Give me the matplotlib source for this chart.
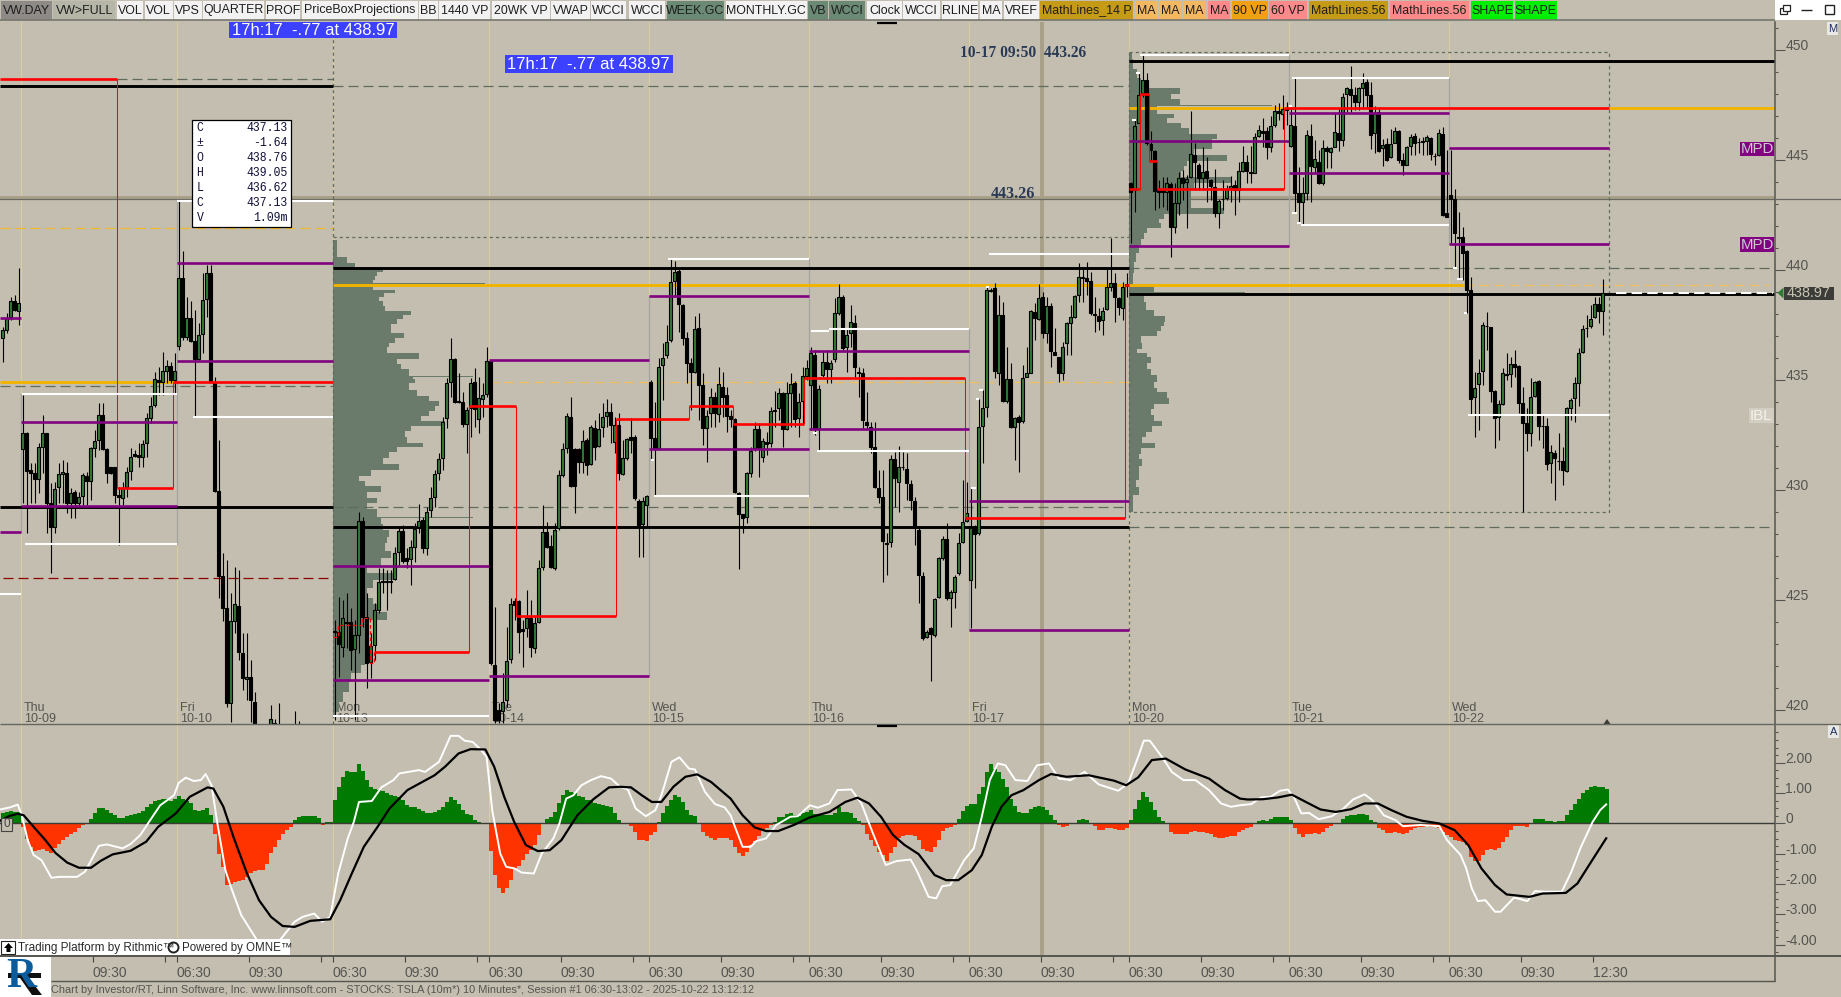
import matplotlib
matplotlib.use('Agg')
import matplotlib.pyplot as plt
from matplotlib.patches import Rectangle, Polygon
from matplotlib.transforms import Affine2D

plt.rcParams['font.family'] = ['Liberation Sans', 'DejaVu Sans']

W, H = 1841, 997
BG = '#c4beb0'
GREY_DASH = '#5e6b5e'

# ---- candles, one list per session: (open, high, low, close)
pre_bars = [(436.89,437.42,435.83,437.27),(437.27,438.03,437.12,437.80),(437.88,438.78,437.72,438.59),
 (438.59,438.86,438.15,438.18),(438.15,440.07,437.50,438.48)]

d1009 = [(431.85,434.31,429.39,432.60),(432.57,432.65,428.03,430.88),(430.91,431.21,429.39,430.75),(430.75,431.21,429.39,430.48),
 (430.48,432.12,429.85,431.94),(431.97,433.41,430.75,432.57),(432.57,432.60,428.03,429.39),(429.39,430.30,426.21,428.33),
 (428.33,430.38,428.03,430.03),(430.15,431.21,429.39,430.71),(430.71,431.36,429.39,430.83),(430.75,431.29,428.94,429.39),
 (429.42,430.07,428.74,429.85),(429.92,430.00,428.71,429.39),(429.39,429.92,429.24,429.66),(429.73,430.75,429.32,430.66),
 (430.63,430.83,429.32,430.42),(430.42,431.97,429.54,431.89),(431.91,432.72,431.51,432.22),(432.27,433.93,431.82,433.41),
 (433.41,433.96,431.82,431.85),(431.85,431.89,430.30,430.75),(431.03,431.06,430.72,430.75),(431.03,431.06,429.39,429.77),
 (429.77,430.15,427.50,429.66),(429.62,430.38,429.24,430.07),(430.12,431.06,429.69,430.80),(430.88,431.89,430.45,431.48),
 (431.62,431.82,431.51,431.54),(431.59,432.12,431.06,431.51),(431.51,432.27,431.06,432.07),(432.12,433.48,431.51,433.25),
 (433.28,434.24,433.03,433.81),(433.88,435.38,433.78,435.03),(435.00,435.60,434.31,434.92),(434.92,436.29,434.31,435.41),
 (435.42,435.91,434.85,435.63),(435.63,435.83,434.85,435.00),(435.00,436.21,434.39,435.41)]

d1010 = [(436.54,443.13,436.36,439.62),(439.62,440.86,436.81,436.97),(436.97,438.78,436.81,437.80),(437.80,438.59,436.74,436.77),
 (436.77,438.18,433.33,435.93),(435.93,437.57,435.90,437.04),(437.09,439.84,436.21,438.63),(438.66,440.22,437.88,439.88),
 (439.88,440.22,434.85,434.92),(434.92,435.15,429.92,429.97),(429.95,432.27,425.10,426.10),(426.09,427.12,424.04,424.65),
 (424.65,426.82,420.15,420.33),(420.30,425.30,419.47,424.04),(424.06,426.51,423.48,424.82),(424.73,426.36,422.27,422.65),
 (422.60,423.48,420.91,421.44),(421.39,423.48,420.45,421.51),(421.48,422.27,419.47,420.45),(420.36,420.83,418.90,419.20),
 (418.80,419.10,418.10,418.40),(418.40,419.00,417.80,418.60),(418.60,419.10,417.90,418.30),(418.90,420.23,418.40,419.60),
 (419.40,419.60,418.90,419.35),(419.00,420.32,418.50,419.10),(418.60,419.00,418.00,418.40),(418.40,418.90,417.90,418.70),
 (418.70,419.10,418.20,418.50),(418.90,419.95,418.30,419.10),(418.80,419.50,418.20,418.60),(418.60,419.00,418.00,418.30),
 (418.30,418.90,417.90,418.60),(418.60,419.00,418.10,418.40),(418.40,418.80,417.80,418.20),(418.20,418.90,417.80,418.70),
 (418.70,419.10,418.30,418.50),(418.50,419.00,418.00,418.30),(418.30,418.90,418.00,418.60)]

d1013 = [(423.60,424.09,419.54,423.56),(423.56,425.15,421.51,423.00),(422.85,424.99,422.42,424.16),(424.01,425.30,422.80,423.94),
 (424.01,424.62,421.82,422.72),(422.76,424.09,419.54,423.41),(423.41,429.01,422.57,428.60),(428.60,428.79,423.79,424.24),
 (424.24,425.30,420.98,422.12),(422.20,423.48,421.44,422.92),(422.95,424.85,422.27,424.54),(424.54,426.47,424.39,425.83),
 (425.88,426.44,425.30,425.83),(425.88,426.36,424.54,425.82),(425.86,426.36,425.30,425.80),(425.94,427.42,425.91,427.15),
 (427.20,428.33,426.59,428.15),(428.15,428.41,426.66,426.77),(426.89,427.35,426.44,426.79),(426.85,427.72,425.68,427.39),
 (427.42,428.48,426.74,428.21),(428.30,429.35,428.03,428.60),(428.63,428.79,427.12,427.35),(427.35,429.24,427.04,429.01),
 (429.09,430.15,428.79,429.62),(429.66,430.91,429.24,430.71),(430.75,431.66,430.45,431.42),(431.44,433.33,430.91,433.10),
 (433.25,435.07,432.80,434.88),(434.91,436.89,434.24,435.94),(435.94,435.98,433.94,434.01),(434.03,435.30,433.94,434.00),
 (434.01,434.47,432.88,432.98),(432.98,433.78,431.66,433.63),(433.71,435.07,432.42,434.88),(434.92,435.53,432.88,433.66),
 (433.21,435.15,432.57,434.16),(434.15,434.85,433.33,434.31),(434.35,436.48,434.24,435.88)]

d1014 = [(435.88,435.91,422.04,422.12),(422.04,424.69,419.39,419.54),(420.00,420.30,419.39,419.54),(419.97,421.66,419.39,420.38),
 (420.45,423.79,420.15,422.24),(422.30,425.07,422.12,424.80),(424.97,425.07,424.09,424.77),(424.97,425.00,422.57,423.56),
 (423.67,424.09,421.97,423.59),(423.71,425.45,423.33,424.16),(424.16,425.00,422.42,422.88),(422.80,424.24,422.57,423.94),
 (424.01,426.82,423.94,426.44),(426.48,429.32,426.36,428.10),(428.10,428.56,427.35,427.42),(427.45,427.95,426.44,426.48),
 (426.44,428.48,426.36,428.18),(428.26,430.91,428.18,430.66),(430.68,432.12,430.60,431.85),(431.89,433.48,431.66,433.36),
 (433.33,434.21,430.15,430.18),(431.85,431.89,428.94,430.18),(431.85,431.89,430.75,431.25),(431.28,432.72,430.75,432.24),
 (432.27,432.35,430.68,431.13),(431.18,432.95,431.13,432.85),(432.80,433.18,431.36,431.97),(432.00,433.48,431.97,432.75),
 (432.85,433.93,432.42,433.30),(433.36,434.12,432.88,433.56),(433.56,433.93,432.12,432.95),(432.18,433.33,431.66,432.95),
 (432.95,433.48,430.45,430.75),(430.71,432.27,430.68,431.44),(431.44,432.35,431.36,432.30),(432.39,433.25,431.66,432.27),
 (432.39,432.50,429.54,429.62),(429.50,429.57,426.94,428.36),(428.44,429.69,426.97,429.51),(429.32,429.77,428.33,429.72)]

d1015 = [(434.89,435.00,431.36,432.35),(432.35,434.01,429.72,431.85),(431.85,435.98,431.82,435.60),(435.68,436.66,434.09,435.98),
 (436.13,437.50,435.98,436.74),(436.81,440.53,436.74,439.44),(439.51,440.42,438.78,439.89),(439.95,440.07,437.19,438.44),
 (438.41,438.44,436.59,436.92),(436.92,437.19,434.85,435.75),(435.75,435.98,433.63,435.38),(435.38,437.91,435.30,437.30),
 (437.35,438.03,433.18,434.77),(434.77,435.30,432.04,432.83),(432.83,433.63,431.29,433.38),(433.48,434.62,432.88,434.21),
 (434.21,434.47,432.88,433.48),(433.45,435.60,433.10,434.80),(434.69,435.38,433.33,434.24),(434.31,434.69,432.65,433.38),
 (433.36,433.63,432.88,433.21),(433.21,433.25,429.85,429.92),(429.85,429.92,426.39,428.89),(428.89,428.91,428.03,428.71),
 (428.79,430.83,428.48,430.78),(430.75,431.97,430.60,431.78),(431.89,433.10,431.78,432.75),(432.75,433.03,430.57,431.89),
 (431.51,432.35,431.25,432.22),(432.16,432.65,431.59,432.09),(432.12,433.78,431.97,433.60),(433.63,434.51,432.88,433.60),
 (433.71,434.62,433.18,434.42),(434.39,434.47,431.97,432.75),(432.75,434.92,432.72,434.39),(434.42,435.30,432.88,434.82),
 (434.85,434.97,432.88,433.21),(433.25,434.39,432.42,434.01),(434.06,435.60,432.95,435.18),(435.18,435.91,435.00,435.53)]

d1016 = [(434.77,436.51,432.72,436.21),(436.13,436.36,432.50,432.75),(432.75,434.77,431.82,434.59),(435.22,436.29,435.15,435.80),
 (435.83,436.36,434.85,435.48),(435.48,435.91,434.85,435.75),(435.94,438.71,435.83,438.03),(438.06,439.36,437.95,438.75),
 (438.75,438.86,436.36,436.44),(436.51,437.35,435.38,437.04),(437.12,438.41,436.51,437.65),(437.57,437.95,435.15,435.60),
 (435.38,435.60,434.24,435.33),(435.30,435.53,432.80,433.18),(433.10,434.47,432.77,432.95),(432.88,433.10,431.66,431.94),
 (431.97,433.10,430.07,430.15),(430.07,430.91,429.39,429.69),(429.66,430.91,425.83,427.69),(427.60,428.03,426.13,427.54),
 (427.65,431.59,427.42,431.39),(431.39,431.74,429.24,430.53),(430.38,432.00,429.01,431.06),(431.06,431.74,430.91,431.03),
 (430.94,431.66,429.54,430.30),(430.27,430.45,429.09,429.54),(429.51,429.69,427.50,428.33),(428.18,428.33,424.88,426.15),
 (426.09,426.29,423.18,423.29),(423.33,423.63,423.26,423.56),(423.71,423.79,421.33,423.44),(423.41,425.07,423.33,425.03),
 (425.15,426.97,425.07,426.89),(426.89,427.91,426.82,427.76),(427.76,428.48,425.00,425.07),(425.07,425.45,423.79,425.35),
 (425.35,426.13,424.62,426.06),(426.21,428.03,426.13,427.60),(427.65,430.45,427.57,428.56),(428.60,430.38,428.56,428.94)]

d1017 = [(425.91,430.12,423.71,428.26),(428.33,428.39,425.56,428.00),(428.03,434.15,427.95,432.88),(432.91,434.54,431.21,433.71),
 (433.75,439.24,433.33,439.09),(439.09,439.16,439.01,439.06),(439.16,439.39,435.07,435.42),(435.33,438.86,434.77,437.95),
 (437.95,438.56,434.01,434.06),(434.03,436.51,433.94,435.03),(435.03,435.75,432.80,432.88),(432.88,433.33,431.36,433.25),
 (433.33,433.41,430.83,433.10),(433.13,435.68,433.03,435.07),(435.15,436.51,435.12,435.33),(435.33,438.18,435.30,438.13),
 (438.07,438.48,436.81,437.80),(437.78,439.36,437.72,438.74),(438.75,439.01,436.89,437.15),(437.15,438.78,436.66,438.38),
 (438.38,438.48,435.60,436.33),(436.29,437.35,436.13,436.13),(436.03,436.06,434.92,435.30),(435.33,436.74,435.00,436.51),
 (436.66,437.65,436.13,437.57),(437.60,438.41,436.13,437.88),(437.88,438.86,437.80,438.83),(438.86,440.33,438.56,439.69),
 (439.66,440.15,438.56,439.62),(439.62,440.38,438.86,439.51),(439.51,439.92,437.95,438.03),(438.00,438.78,437.19,437.94),
 (437.91,438.25,437.27,437.69),(437.72,438.33,437.04,438.13),(438.24,440.07,438.18,439.21),(439.24,441.45,439.06,439.39),
 (439.39,439.84,437.65,438.75),(438.71,438.78,437.95,438.33),(438.28,439.47,437.72,439.24),(439.34,439.84,438.78,439.27)]

d1020 = [(443.97,444.01,441.21,443.56),(443.63,446.81,442.65,446.54),(446.69,448.94,446.66,447.95),(448.03,449.77,447.87,448.63),
 (448.63,448.94,445.68,445.75),(445.72,446.31,445.00,445.45),(445.41,445.45,442.72,443.60),(443.66,444.09,442.80,443.54),
 (443.63,444.21,442.88,443.53),(443.56,444.24,442.72,443.94),(443.91,444.01,440.60,441.97),(441.97,443.94,441.66,443.03),
 (443.06,444.47,442.50,444.16),(444.16,444.54,443.18,443.94),(444.01,444.31,441.92,444.12),(444.21,447.22,444.16,445.25),
 (445.22,445.75,443.63,444.92),(444.77,444.87,443.63,444.19),(444.19,445.60,443.63,444.44),(444.50,445.15,443.10,444.16),
 (444.09,444.12,443.18,443.83),(443.75,444.57,442.42,442.57),(442.60,443.21,441.92,443.13),(443.24,444.09,442.72,443.21),
 (443.25,443.86,443.18,443.66),(443.71,444.27,443.10,443.81),(443.84,444.09,442.50,443.63),(443.63,444.92,443.10,444.50),
 (444.51,445.63,444.47,444.89),(444.89,445.22,443.94,444.50),(444.44,445.63,443.94,444.39),(444.42,446.21,444.39,446.03),
 (446.09,446.59,446.06,446.36),(446.33,446.89,445.60,446.21),(446.33,446.48,445.03,445.57),(445.57,446.99,445.37,446.54),
 (446.59,447.50,446.51,447.22),(447.22,447.57,446.81,447.15),(447.09,447.95,446.39,447.31),(447.37,447.65,446.59,447.27)]

d1021 = [(445.63,447.42,445.60,446.59),(446.54,448.71,442.57,443.51),(443.48,444.66,442.12,443.07),(443.07,444.24,442.04,443.48),
 (443.51,446.36,443.18,446.13),(446.09,446.63,443.10,444.72),(444.69,445.91,444.39,445.03),(444.92,445.45,443.91,443.94),
 (443.94,445.91,443.86,445.53),(445.53,445.63,444.62,445.42),(445.37,445.60,444.62,445.53),(445.60,447.12,445.57,446.25),
 (446.21,447.34,445.41,445.91),(445.91,448.06,445.63,447.84),(447.98,448.33,447.19,448.25),(448.21,449.27,447.19,447.95),
 (447.94,448.33,447.27,447.65),(447.65,448.33,447.27,448.25),(448.28,448.97,447.34,448.48),(448.53,448.66,447.34,447.95),
 (447.95,448.56,445.48,446.13),(446.21,447.45,445.33,447.15),(447.19,447.42,445.37,445.42),(445.53,445.94,444.72,445.66),
 (445.71,445.98,444.97,445.00),(445.12,446.39,445.07,445.71),(445.78,446.48,445.75,446.31),(446.31,446.36,444.84,445.00),
 (445.00,445.30,444.31,444.77),(444.78,445.63,444.77,445.57),(445.63,446.18,445.22,446.06),(446.09,446.21,445.22,445.75),
 (445.83,445.98,445.30,445.80),(445.86,446.06,445.22,445.81),(445.87,446.13,445.22,446.03),(445.98,446.06,445.00,445.27),
 (445.19,445.30,444.77,445.16),(445.22,446.39,445.18,446.21),(446.18,446.51,442.45,442.50),(442.57,445.45,442.39,442.42)]

d1022 = [(443.41,445.45,441.21,443.21),(443.21,443.68,440.07,441.66),(441.51,442.63,439.62,441.47),(441.48,441.94,439.54,440.75),
 (440.87,440.91,438.03,439.09),(439.09,439.66,433.41,434.12),(434.21,435.38,432.39,434.62),(434.80,435.94,432.72,435.30),
 (435.39,437.63,434.77,437.48),(437.47,438.09,436.36,437.44),(437.39,437.42,434.01,434.51),(434.50,434.54,431.92,433.26),
 (433.33,434.09,432.27,433.89),(433.89,435.53,433.86,435.30),(435.25,436.21,435.00,435.22),(435.25,436.06,434.69,435.71),
 (435.71,436.36,435.15,435.60),(435.63,435.68,433.48,433.97),(433.94,434.69,429.01,433.06),(433.03,433.71,431.78,432.60),
 (432.57,435.07,432.00,434.24),(434.27,434.97,434.24,434.89),(434.95,435.00,432.27,432.92),(432.92,433.41,431.89,432.89),
 (432.92,433.26,430.91,431.16),(431.21,432.04,430.33,431.71),(431.66,431.81,429.54,431.44),(431.33,432.57,430.91,431.30),
 (431.30,431.97,430.23,430.91),(430.88,433.79,430.83,433.71),(433.74,434.16,433.18,434.09),(434.16,435.15,433.10,434.88),
 (434.88,436.44,433.82,436.21),(436.25,437.50,436.21,437.30),(437.38,437.95,436.94,437.35),(437.45,438.41,437.34,437.75),
 (437.84,438.79,437.80,438.44),(438.44,438.79,437.57,438.15),(438.15,439.59,437.04,438.97)]

# first bar of each session on the bar axis, 10-09 = bar 0
sessions = [(-5, pre_bars), (0, d1009), (39, d1010), (78, d1013), (117, d1014), (157, d1015),
            (197, d1016), (237, d1017), (277, d1020), (317, d1021), (357, d1022)]
day_edges = [-0.5, 38.5, 77.5, 116.5, 156.5, 196.5, 236.5, 276.5, 316.5, 356.5]
day_names = ['Thu\n10-09', 'Fri\n10-10', 'Mon\n10-13', 'Tue\n10-14', 'Wed\n10-15', 'Thu\n10-16',
             'Fri\n10-17', 'Mon\n10-20', 'Tue\n10-21', 'Wed\n10-22']

# ---- oscillator histogram per session
hist_pre = [.36,.38,.40,.38,.38]
hist_1009 = [-.1,-.5,-.77,-.9,-.88,-.85,-.9,-.97,-.82,-.68,-.55,-.46,-.36,-.27,-.16,-.05,.02,.16,.35,.5,.5,.44,.35,.27,.19,.19,.23,.27,.31,.35,.42,.53,.64,.74,.79,.81,.81,.75,.8]
hist_1010 = [.9,.81,.75,.66,.44,.42,.46,.52,.27,-.35,-1.01,-1.43,-2.04,-1.98,-1.92,-1.9,-1.87,-1.76,-1.63,-1.56,-1.54,-1.54,-1.32,-.97,-.77,-.55,-.36,-.2,-.11,.1,.2,.23,.24,.24,.24,.19,-.05,.06,.06]
hist_1013 = [.77,1.19,1.54,1.73,1.7,1.7,1.96,1.74,1.43,1.21,1.15,1.12,1.08,1.01,.93,.9,.88,.77,.6,.55,.53,.48,.41,.35,.35,.38,.44,.53,.71,.86,.79,.64,.46,.31,.27,.13,.05,.01,-.01]
hist_1014 = [-.9,-1.7,-2.14,-2.29,-2.14,-1.87,-1.46,-1.4,-1.21,-1.01,-.88,-.71,-.38,-.02,.16,.22,.38,.66,.93,1.12,1.04,.99,.9,.86,.77,.77,.68,.64,.6,.57,.53,.35,.11,.02,-.03,-.09,-.27,-.53,-.55,-.58]
hist_1015 = [-.38,-.27,.05,.33,.57,.79,.93,.88,.71,.44,.27,.25,-.02,-.27,-.42,-.47,-.53,-.49,-.49,-.49,-.53,-.77,-.97,-1.07,-.93,-.71,-.57,-.42,-.22,-.16,-.05,.05,.2,.22,.31,.33,.27,.25,.33,.38]
hist_1016 = [.44,.31,.27,.27,.27,.27,.35,.53,.38,.38,.33,.19,.08,-.05,-.36,-.55,-.75,-.93,-1.04,-1.23,-.99,-.77,-.49,-.42,-.38,-.38,-.42,-.55,-.85,-.9,-.93,-.77,-.53,-.24,-.16,-.11,-.04,.16,.41,.57]
hist_1017 = [.63,.63,.97,1.21,1.7,1.96,1.78,1.7,1.45,1.19,.82,.57,.38,.35,.35,.48,.53,.57,.53,.46,.27,.11,-.04,-.11,-.09,-.03,.02,.11,.14,.13,.02,-.09,-.2,-.2,-.16,-.14,-.19,-.2,-.2,-.16]
hist_1020 = [.11,.49,.77,1.04,.88,.71,.46,.22,.08,-.02,-.27,-.34,-.34,-.34,-.34,-.27,-.26,-.27,-.29,-.33,-.35,-.46,-.47,-.47,-.46,-.42,-.4,-.27,-.22,-.16,-.11,-.02,.09,.11,.09,.16,.2,.21,.21,.2]
hist_1021 = [.11,-.16,-.35,-.44,-.35,-.34,-.33,-.34,-.27,-.16,-.09,-.03,.02,.16,.24,.27,.29,.31,.31,.27,.11,.05,-.16,-.22,-.31,-.31,-.29,-.31,-.34,-.31,-.22,-.16,-.13,-.11,-.09,-.11,-.09,-.16,-.27,-.38]
hist_1022 = [-.46,-.53,-.57,-.6,-.71,-1.1,-1.24,-1.24,-1.04,-.86,-.85,-.86,-.8,-.6,-.44,-.22,-.09,-.07,-.07,-.11,-.02,.16,.16,.16,.09,.08,.04,.07,.08,.27,.44,.64,.82,1.01,1.12,1.19,1.23,1.21,1.19,1.13]
hist_sessions = [(-5, hist_pre), (0, hist_1009), (39, hist_1010), (78, hist_1013), (117, hist_1014), (157, hist_1015),
                 (197, hist_1016), (237, hist_1017), (277, hist_1020), (317, hist_1021), (357, hist_1022)]

# ---- fast (white) and slow (black) oscillator lines, read at their turning points
fast_bar = [-5.65,-3.2,-1.2,-.2,1.27,2.75,4.73,7.2,9.18,13.63,15.6,17.6,19.06,21.04,25,26.97,29.44,31.9,34.4,37.85,39.03,40.8,42.8,44.57,45.75,47.24,48.7,50.7,52.2,54.65,58.6,61.57,64.5,68,70,72.9,74.9,76.9,78.9,81.3,82.8,84.1,87.3,89.7,92.7,94.2,99.1,100.6,104.1,107,109,110.5,112.5,114.5,116,117.4,119.4,120.9,122.9,124.8,127.8,129.8,132.7,134.2,135.9,137.7,139.7,142.1,144.6,147.1,149.35,
 151.3,153.3,155.8,158.2,159.7,162.2,164.2,166.6,168.1,170.6,173.1,175.5,177,180,182,183.4,185.9,188.4,191.9,193.8,196.8,198.8,201.7,203.7,207.2,209.7,212.6,215.8,218.5,222,223.5,226.5,228.4,229.9,231.9,235.4,237.8,239.8,241.8,243.8,245.7,248.2,251.2,253.6,256.6,259.1,262,265.5,269,273.9,276.4,278.9,280.3,281.8,284.8,287.3,290.2,293.2,296.6,299.6,302.1,304.35,
 307.2,309.6,312,314.4,316.3,317.8,319.7,321.6,324,327.3,330.2,332.6,335.5,337.4,340.3,343.2,345.1,349.4,354.2,356.1,359.5,360.9,362.3,363.8,365.7,368.1,369.5,372.9,376.2,378.1,380.5,384.8,387.2,389.6,392.5,394.4,395.9]
fast_val = [.46,.53,.62,.27,-.55,-1.04,-1.21,-1.79,-1.76,-1.76,-1.59,-1.1,-.74,-.69,-.82,-.68,-.38,.11,.6,.93,1.34,1.51,1.4,1.43,1.63,1.26,0,-1.54,-2.14,-3.02,-3.85,-4.29,-3.82,-3.24,-3.08,-2.97,-3.24,-3.08,-1.65,-.49,.05,.71,.74,1.19,1.43,1.65,1.76,1.7,2.03,2.89,2.89,2.73,2.69,2.44,2.2,.44,-.99,-1.43,-1.48,-1.62,-1.65,-.99,-.49,0,.82,.93,1.26,1.43,1.56,1.48,1.21,
 1.12,.49,.24,.44,.93,2.03,2.18,1.81,1.78,1.04,.64,.53,.27,-.77,-.77,-.58,-.49,-.05,.22,.24,.6,.52,.66,1.1,1.12,.66,-.33,-1.37,-1.24,-1.19,-1.54,-2.42,-2.47,-2.07,-2.03,-1.21,-.82,.22,1.43,1.98,1.92,1.43,1.4,1.92,1.98,1.48,1.43,1.7,1.29,1.08,1.32,2.2,2.73,2.73,2.2,1.7,1.43,1.43,1.1,.66,.55,.6,
 .64,.86,.88,1.08,1.12,.88,.33,.35,.14,.24,.49,.79,.96,.77,.27,.11,-.09,-.05,-.09,-.55,-1.04,-1.48,-2.14,-2.56,-2.53,-2.91,-2.91,-2.44,-2.56,-2.23,-2.25,-2.25,-1.59,-.77,.05,.44,.63]
slow_bar = [-5.65,-3.2,-1.2,.28,2.75,5.7,8.2,11.15,14.1,17.1,19.56,22.5,27,30.9,33.9,38.3,41.8,46.25,47.7,50.2,52.7,56.1,59.1,62.1,65,68,71.95,76.9,79.4,82.3,85.3,88.75,91.7,96.2,103,105.6,109,112,115.7,117.9,120.4,122.9,125.8,128.8,131.8,134.7,138.7,142.6,146.6,149.35,
 152.1,154.8,157.3,159.7,162.7,165.7,168.6,172.1,177,180,183,185.9,188.9,192.8,196.8,201.7,205.7,208.7,211.6,214.6,217.6,220.5,224,228,230.9,233.9,237.3,239.8,242.3,244.7,247.2,250.2,254.1,257.1,261,266.5,272.9,275.9,278.9,282.3,285.8,290.7,296.6,300.6,304.35,
 306.3,310.1,313.9,317.3,321.1,324.5,328.3,332.1,335.5,338.8,342.2,346,349.9,354.2,358,361.4,364.7,368.1,371,376.7,380,385.8,388.7,391.1,394,395.9]
slow_val = [.09,.25,.32,.27,-.11,-.55,-.97,-1.29,-1.46,-1.46,-1.23,-1.02,-.9,-.6,-.11,.33,.88,1.19,1.15,.55,-.44,-1.65,-2.53,-3.08,-3.38,-3.41,-3.21,-3.16,-2.53,-1.65,-.77,-.11,.49,1.1,1.59,1.87,2.31,2.45,2.44,1.87,.88,.05,-.71,-.91,-.88,-.55,.27,.79,1.19,1.21,
 1.19,.93,.71,.71,1.21,1.54,1.62,1.37,.82,.27,-.13,-.25,-.25,-.05,.2,.38,.71,.85,.66,.22,-.38,-.71,-1.01,-1.7,-1.87,-1.87,-1.54,-1.04,-.11,.55,.93,1.1,1.43,1.63,1.54,1.59,1.41,1.26,1.52,2.09,2.14,1.78,1.48,1.1,.82,
 .79,.8,.86,.95,.69,.46,.38,.47,.66,.66,.44,.22,.09,0,-.22,-.71,-1.48,-2.03,-2.34,-2.42,-2.31,-2.29,-1.98,-1.48,-.88,-.49]

# ---- volume profiles: price rows and row sizes, measured in bar widths
vp1_price = [441.36,441.06,440.75,440.45,440.22,440.00,439.84,439.62,439.47,439.42,439.39,439.36,439.16,439.01,438.86,438.71,438.48,438.25,438.03,437.88,437.65,437.42,437.19,437.04,436.81,436.59,436.36,436.06,435.83,435.60,435.38,435.20,435.15,435.10,435.00,434.69,434.39,434.16,433.93,433.71,433.48,433.25,433.03,432.80,432.57,432.27,432.04,431.82,431.59,431.29,431.06,430.75,430.53,430.30,430.04,429.77,429.54,429.24,429.01,428.80,428.75,428.70,428.56,428.33,428.03,427.72,427.42,427.04,426.74,426.36,426.06,425.76,425.30,424.92,424.69,424.24,423.94,423.48,422.88,422.27,421.82,421.51,421.06,420.60,420.15,419.70]
vp1_size = [1,1,1.2,3.5,5.5,12.5,11,10.5,10,10,38.2,10,10,15.5,12.8,11.5,12.5,13,19.7,17.5,16,14.5,14.5,17.8,15.5,14,13.5,21.5,16,17,19,19,35,20,20.5,19,21,24,26.5,25.5,24,22,28,19.5,18,18.5,22.7,16,14,12.5,16.5,9.5,6.5,8,12,8.5,11,8.5,11,11,35,12,12,12.5,14,13.5,13,14.5,12,8.5,15,10,8.5,10,11,13.5,8.5,8.5,8,8,7,4.5,4,2.5,1.5,.5]
vp2_price = [449.84,449.31,448.94,448.48,448.10,447.87,447.69,447.51,447.47,447.43,447.19,447.01,446.81,446.59,446.33,446.06,445.83,445.60,445.37,445.04,444.84,444.62,444.39,444.09,443.78,443.48,443.03,442.62,442.42,442.19,442.04,441.81,441.51,441.28,440.98,440.60,440.15,439.54,439.16,439.02,438.98,438.94,438.71,438.33,438.03,437.75,437.54,437.34,437.15,436.82,436.54,436.29,436.13,435.91,435.60,435.38,435.07,434.77,434.54,434.32,434.04,433.79,433.56,433.26,433.03,432.80,432.50,432.27,432.03,431.74,431.51,431.29,430.91,430.60,430.30,430.00,429.54,429.01]
vp2_size = [.9,1.2,2.2,3,12.75,10.5,12.75,12.75,35.9,7.2,7.2,11.3,9.7,13,15,22,20.9,20.9,16.3,24.5,14.7,13.8,13,25.5,16.3,15.5,15.5,23.8,8.8,7.6,8.2,4.7,3.8,3,2.6,1.8,1.3,1.2,6.3,6.3,29.2,3.8,3.8,4.3,6.3,9.2,8.8,8,7.2,3,3.4,2.2,4.7,5.5,4.7,5.7,7.2,6.3,7.2,9.5,10,6.3,5.5,6.3,8.3,5.9,4.3,3.4,6.7,3,2.6,3.4,2.6,2.6,1.8,2.5,1,1]

# ---- level lines in the price pane: (price, first bar, last bar)
black_levels = [(448.35,-5.65,77.5),(429.21,-5.65,77.5),(440.07,77.5,276.5),(428.30,77.5,276.5),(449.48,276.5,438.1),(438.90,276.5,438.1)]
gold_levels = [(434.89,-5.65,37.55),(439.30,77.5,360.35),(447.36,276.5,316.3),(447.36,396.6,438.1)]
day_high_low = [(437.80,428.07,-5.65,-.5),(433.07,429.29,-.5,38.5),(440.30,435.85,38.5,77.5),(426.53,421.35,77.5,116.5),
                (435.89,421.54,116.5,156.5),(438.80,431.85,156.5,196.5),(436.30,432.75,196.5,236.5),(429.48,423.62,236.5,276.5),
                (445.85,441.08,276.5,316.5),(447.12,444.39,316.5,356.5),(445.53,441.16,356.5,396.6)]
white_levels = [(425.29,-5.65,-.5),(434.36,-.2,38.5),(427.56,.5,38.5),(443.14,38.5,77.5),(433.33,42.5,77.5),(419.74,77.5,116.5),
                (440.50,161.4,196.5),(429.72,157.8,196.5),(431.36,157,157.8),(437.24,197,201.5),(437.31,201.5,236.5),(431.77,198.5,236.5),
                (432.57,197.5,198.5),(440.72,241.5,276.5),(439.24,240.8,241.5),(434.54,239.2,240.2),(434.15,238.3,239.2),(430.11,237,238.3),
                (449.77,279.3,316.5),(448.94,278.35,279.35),(446.81,277.4,278.35),(447.47,316.5,317.4),(448.74,317.4,356.5),(442.57,317.4,318.5),
                (442.15,318.5,319.5),(442.06,319.5,356.5),(440.07,357.5,358.5),(439.60,358.5,360.2),(438.06,360.4,361.2),(433.41,361.3,396.5)]
dashed_levels = [(448.67,23.5,77.5,GREY_DASH),(448.35,77.5,276.5,GREY_DASH),(441.90,-5.65,77.5,'#f0b830'),(434.72,-5.65,77.5,GREY_DASH),
                 (429.21,77.5,276.5,GREY_DASH),(434.89,116.5,276.5,'#eec060'),(425.98,-5,77,'#8b0000'),(440.07,276.5,436.6,GREY_DASH),
                 (428.30,276.5,436.6,GREY_DASH),(439.30,360.35,436.6,'#eec060')]
range_edges = [(-.5,434.36,428.07),(38.5,443.14,427.56),(156.5,438.80,421.54),(196.5,440.50,429.72),(236.5,437.31,423.62),(316.5,449.77,441.08),(356.5,448.74,441.16)]
red_paths = [[(-5.65,448.67),(23.5,448.67),(23.5,430.10),(37.55,430.10),(37.55,434.89),(77.5,434.89)],
             [(87.8,422.62),(111.5,422.62),(111.5,433.82),(123.4,433.82),(123.4,424.29),(148.4,424.29),(148.4,433.21),(166.65,433.21),(166.65,433.82),
              (177.5,433.82),(177.5,432.98),(195.3,432.98),(195.3,435.07),(235.55,435.07),(235.55,428.71),(275.7,428.71),(275.7,439.32),(276.5,439.32)],
             [(276.5,443.67),(279.3,443.67),(279.3,448.0),(281.6,448.0),(281.6,444.97),(283.6,444.97),(283.6,443.67),(315.4,443.67),(315.4,447.36),(396.6,447.36)]]
# broken bits of the same line at the 10-13 open
red_bits = [(77.5,423.33),(78.9,423.33),(78.9,423.86),(82.8,423.86),(84.8,423.86),(84.8,424.16),(86.8,424.16),(86.8,422.12),(87.8,422.12),(87.8,422.62)]

# ---- axis ticks
price_ticks = [450, 445, 440, 435, 430, 425, 420]
price_minor = [x for x in range(420, 452)]
osc_ticks = [2, 1, 0, -1, -2, -3, -4]
osc_labels = ['2.00', '1.00', '0', '-1.00', '-2.00', '-3.00', '-4.00']
osc_minor = [3,2.75,2.5,2.25,1.75,1.5,1.25,.75,.5,.25,-.25,-.5,-.75,-1.25,-1.5,-1.75,-2.25,-2.5,-2.75,-3.25,-3.5,-3.75,-4.25]
time_ticks = []
time_labels = []
for edge in day_edges:
    for off, lab in [(0, '06:30'), (18, '09:30'), (36, '')]:
        if edge == -.5 and off == 0:
            continue
        time_ticks.append(edge + off)
        time_labels.append(lab)
time_labels[-1] = '12:30'

# ---- toolbar
tb_names = ['VW.DAY','VW>FULL','VOL','VOL','VPS','QUARTER','PROF','PriceBoxProjections','BB','1440 VP','20WK VP','VWAP','WCCI','WCCI','WEEK.GC','MONTHLY.GC','VB','WCCI','Clock','WCCI','RLINE','MA','VREF','MathLines_14 P','MA','MA','MA','MA','90 VP','60 VP','MathLines.56','MathLines.56','SHAPE','SHAPE']
tb_left = [1,53,116.6,144.7,174,203,265.7,302,419,439,492,551,591,628.7,667,726,808,829,867,903.5,942,980,1004,1040,1135,1159,1183.5,1207.6,1232,1269.5,1309,1390,1471,1515]
tb_right = [52,115.5,143.5,172.8,201.7,264,300.5,418,438,490,550,590,626,665.5,724,806.6,827.6,865,902,940,978,1002,1039,1133,1158,1181.5,1206,1230,1267.6,1307,1388,1469,1513,1556.6]
W_ = '#f2f2f2'
tb_colors = ['#8e8a86','#b5b5a8',W_,W_,W_,W_,W_,W_,W_,W_,W_,W_,W_,W_,'#6b8a75',W_,'#6b8a75','#6b8a75',W_,W_,W_,W_,W_,'#c59a16','#f4b860','#f4b860','#f4b860','#fc8a8a','#f0a010','#fc8a8a','#c59a16','#fc8a8a','#00f000','#00f000']

info_rows = ['C','±','O','H','L','C','V']
info_vals = ['437.13','-1.64','438.76','439.05','436.62','437.13','1.09m']

def axes_at(x0, y0, x1, y1):
    return fig.add_axes([x0 / W, 1 - y1 / H, (x1 - x0) / W, (y1 - y0) / H])

fig = plt.figure(figsize=(W / 100, H / 100), dpi=100, facecolor=BG)
ax = axes_at(0, 22, 1775, 724)
osc = axes_at(0, 724, 1775, 956)
for a in (ax, osc):
    a.set_facecolor(BG)
    a.set_xlim(-5.65, 438.1)
    for s in a.spines.values():
        s.set_visible(False)

ax.set_ylim(419.36, 451.27)
osc.set_ylim(-4.37, 3.28)

# crosshair and day separators sit at the back
for a in (ax, osc):
    for edge in day_edges:
        a.axvline(edge, color='#d8cfa0', lw=0.8, zorder=1)
    a.axvspan(254.4, 255.4, color='#a8a088', lw=0, zorder=1.2)
ax.axhspan(443.23, 443.36, color='#a8a088', lw=0, zorder=1.2)
ax.axhline(443.21, color='#6a6a62', lw=0.9, zorder=1.3)

# day names go under the profile like in the platform
for edge, name in zip(day_edges, day_names):
    ax.text(edge + .8, 419.84, name, fontsize=9, color='#555550', va='center', ha='left', linespacing=0.85, zorder=1.5)

# volume profiles
ax.fill_betweenx(vp1_price, 77.5, [77.5 + v for v in vp1_size], step='mid', color='#6b7b6b', lw=0, zorder=2)
ax.fill_betweenx(vp2_price, 276.5, [276.5 + v for v in vp2_size], step='mid', color='#6b7b6b', lw=0, zorder=2)

for x, p0, p1 in range_edges:
    ax.plot([x, x], [p0, p1], color='#a4a4a4', lw=0.9, zorder=2.2)

# dotted profile boxes
dot = dict(color=GREY_DASH, lw=0.9, ls=(0, (2.5, 2.5)), zorder=2.4)
ax.plot([77.5, 77.5], [419.36, 451], **dot)
ax.plot([77.5, 276.5], [441.5, 441.5], **dot)
ax.plot([276.5, 276.5], [419.36, 449.9], **dot)
ax.plot([276.5, 396.6, 396.6, 276.5], [449.9, 449.9, 428.99, 428.99], **dot)

for p, x0, x1, c in dashed_levels:
    ax.plot([x0, x1], [p, p], color=c, lw=0.9, ls=(0, (8, 4)), zorder=2.5)
for p, x0, x1 in black_levels:
    ax.plot([x0, x1], [p, p], color='black', lw=2.1, solid_capstyle='butt', zorder=3)
for p, x0, x1 in gold_levels:
    ax.plot([x0, x1], [p, p], color='#f0b400', lw=2.1, solid_capstyle='butt', zorder=3)

# candles
for start, bars in sessions:
    for i, (o, h, l, c) in enumerate(bars):
        k = start + i
        ax.plot([k, k], [l, h], color='black', lw=0.8, solid_capstyle='butt', zorder=4)
        up = c > o
        ax.bar(k, abs(c - o), bottom=min(o, c), width=0.78, color='#2f7d32' if up else 'black',
               edgecolor='black', lw=0.8, zorder=4.2)

for path in red_paths:
    for (x0, p0), (x1, p1) in zip(path, path[1:]):
        flat = p0 == p1
        ax.plot([x0, x1], [p0, p1], color='#ff0000', lw=1.9 if flat else 0.75, solid_capstyle='butt', zorder=5)
ax.plot([b[0] for b in red_bits], [b[1] for b in red_bits], color='#ff0000', lw=0.9, ls=(0, (3, 2)), zorder=5)
for hi, lo, x0, x1 in day_high_low:
    ax.plot([x0, x1], [hi, hi], color='#800080', lw=1.9, solid_capstyle='butt', zorder=5.2)
    ax.plot([x0, x1], [lo, lo], color='#800080', lw=1.9, solid_capstyle='butt', zorder=5.2)
for p, x0, x1 in white_levels:
    ax.plot([x0, x1], [p, p], color='white', lw=1.5, solid_capstyle='butt', zorder=5.1)
ax.plot([398.25, 437.6], [438.97, 438.97], color='white', lw=1.5, ls=(0, (5, 2.5)), zorder=5.3)

ax.set_xticks([])
ax.yaxis.tick_right()
ax.set_yticks(price_ticks)
ax.set_yticks(price_minor, minor=True)
osc.yaxis.tick_right()
osc.set_yticks(osc_ticks, osc_labels)
osc.set_yticks(osc_minor, minor=True)
for a in (ax, osc):
    a.tick_params(axis='y', which='major', length=7, width=0.8, color='#555550', labelsize=10, labelcolor='#555550', pad=0.5)
    a.tick_params(axis='y', which='minor', length=2.4, width=0.8, color='#555550')
    for t in a.get_yticklabels():
        t.set_va('bottom')
        t.set_transform(t.get_transform() + Affine2D().translate(0, -3))

# oscillator
for start, vals in hist_sessions:
    for i, v in enumerate(vals):
        osc.bar(start + i, v, width=1.0, color='#007a00' if v > 0 else '#ff3300', lw=0, zorder=2)
osc.axhline(0, color='#3c3c36', lw=1.0, zorder=3, xmax=1)
osc.plot(fast_bar, fast_val, color='white', lw=1.4, zorder=4)
osc.plot(slow_bar, slow_val, color='black', lw=1.6, zorder=5)
osc.set_xticks(time_ticks, time_labels, ha='left')
osc.tick_params(axis='x', length=4.5, width=0.8, color='#444440', labelsize=10, labelcolor='#555550', pad=3)

# everything around the panes, in screen pixels
ov = fig.add_axes([0, 0, 1, 1], zorder=10)
ov.set_xlim(0, W)
ov.set_ylim(H, 0)
ov.axis('off')
ov.patch.set_alpha(0)

def hline(y, x0, x1, c='#555550', lw=1.0):
    ov.plot([x0, x1], [y, y], color=c, lw=lw, solid_capstyle='butt')

def box(x0, y0, x1, y1, c, **kw):
    ov.add_patch(Rectangle((x0, y0), x1 - x0, y1 - y0, facecolor=c, edgecolor=kw.pop('ec', 'none'), lw=kw.pop('lw', 0), **kw))

box(0, 0, W, 20.5, BG)
for name, x0, x1, c in zip(tb_names, tb_left, tb_right, tb_colors):
    box(x0, 1, x1, 20, c)
    ov.text((x0 + x1) / 2, 10.5, name, fontsize=8.9, color='#1e1e1e', ha='center', va='center')
hline(20.5, 0, 1775, '#77776f', 1.2)

# window buttons
box(1775, 0, W, 20, 'white')
box(1780, 8, 1787, 14, 'white', ec='#222222', lw=0.9)
box(1783, 5, 1790, 11, 'white', ec='#222222', lw=0.9)
hline(10, 1801.5, 1812, '#222222', 1.0)
box(1825, 5, 1834, 14, 'white', ec='#222222', lw=1.0)
box(1827, 22, 1838, 35, '#e8e8e4')
ov.text(1832.5, 28.5, 'M', fontsize=8, color='#203060', ha='center', va='center')
box(1828, 725, 1839, 738, '#e8e8e4')
ov.text(1833.5, 731.5, 'A', fontsize=8, color='#203060', ha='center', va='center')

# pane borders
ov.plot([1775, 1775], [22, 981], color='#555550', lw=1.1)
hline(724, 0, W, '#666660', 1.0)
hline(956, 0, W, '#555550', 1.4)
hline(981, 51, 1775, '#555550', 1.0)
hline(199.3, 1775, W, '#6a6a62', 0.9)

# blue change labels
for x0, y0, x1, y1 in [(229.3, 21.7, 396.6, 37.7), (505, 55, 672.6, 72.7)]:
    box(x0, y0, x1, y1, '#3c40ff')
    ov.text((x0 + x1) / 2, (y0 + y1) / 2 + .5, '17h:17  -.77 at 438.97', fontsize=12, color='white', ha='center', va='center')

# OHLC box
box(192.5, 120, 291.4, 227, 'white', ec='black', lw=0.9)
for i, (lab, val) in enumerate(zip(info_rows, info_vals)):
    y = 128 + 15 * i
    ov.text(196.5, y, lab, family='Liberation Mono', fontsize=8.3, color='#10103a', va='center')
    ov.text(288, y, val, family='Liberation Mono', fontsize=8.3, color='#10103a', va='center', ha='right')

# crosshair read-outs
ov.text(960, 53, '10-17 09:50  443.26', family='Liberation Serif', weight='bold', fontsize=11.2, color='#2a3a55', va='center')
ov.text(990.5, 193.5, '443.26', family='Liberation Serif', weight='bold', fontsize=11.6, color='#2a3a55', va='center')

# right edge tags
for y0, y1 in [(141.7, 155.7), (237, 252)]:
    box(1740, y0, 1774, y1, '#800080')
    ov.text(1757, (y0 + y1) / 2 + .3, 'MPD', fontsize=10.8, color='#d0c8d0', ha='center', va='center')
box(1749, 408, 1774, 423, '#d2cec2')
ov.text(1761, 415.5, 'IBL', fontsize=10.8, color='#f4f2ea', ha='center', va='center')
ov.add_patch(Polygon([[1777.5, 293], [1783.5, 287.5], [1783.5, 298.5]], facecolor='#2f7d32', edgecolor='none'))
box(1784, 287, 1834, 299.5, '#3c3c38')
ov.text(1809, 293.3, '438.97', fontsize=10.4, color='#c8c4b4', ha='center', va='center')
ov.add_patch(Polygon([[1603.5, 724], [1610.5, 724], [1607, 719]], facecolor='#3c3c38', edgecolor='none'))
hline(23.5, 877, 897, 'black', 1.6)
hline(725.8, 877, 897, 'black', 1.6)

# zero tag
box(0.5, 818, 12.5, 830.5, BG, ec='#444440', lw=0.8)
ov.text(6.5, 824.3, '0', fontsize=8.5, color='#444440', ha='center', va='center')

# vendor strip
box(0, 939, 290, 955, 'white')
box(1.5, 941, 15.5, 954, 'white', ec='#222222', lw=0.8)
ov.add_patch(Polygon([[8.5, 943], [13, 948], [10.5, 948], [10.5, 952], [6.5, 952], [6.5, 948], [4, 948]], facecolor='black', edgecolor='none'))
ov.text(18, 947.5, 'Trading Platform by Rithmic\u2122', fontsize=8.5, color='#2a2a2a', va='center')
ov.add_patch(plt.Circle((173.5, 947.5), 5, facecolor='none', edgecolor='#222222', lw=1.4))
ov.text(182, 947.5, 'Powered by OMNE\u2122', fontsize=8.3, color='#2a2a2a', va='center')

# logo
box(0, 957, 51, 997, 'white')
ov.text(21, 977, 'R', family='Liberation Serif', weight='bold', fontsize=30, color='#0a5c9c', ha='center', va='center')
ov.add_patch(Polygon([[20, 978], [29, 978], [42, 995], [32, 995]], facecolor='#101010', edgecolor='none'))
box(8, 973, 41, 978, '#101010')

ov.text(51, 989.5, 'Chart by Investor/RT, Linn Software, Inc. www.linnsoft.com - STOCKS: TSLA (10m*) 10 Minutes*, Session #1 06:30-13:02 - 2025-10-22 13:12:12',
        fontsize=7.95, color='#555550', va='center')

fig.savefig('out.png', dpi=100, facecolor=BG)
